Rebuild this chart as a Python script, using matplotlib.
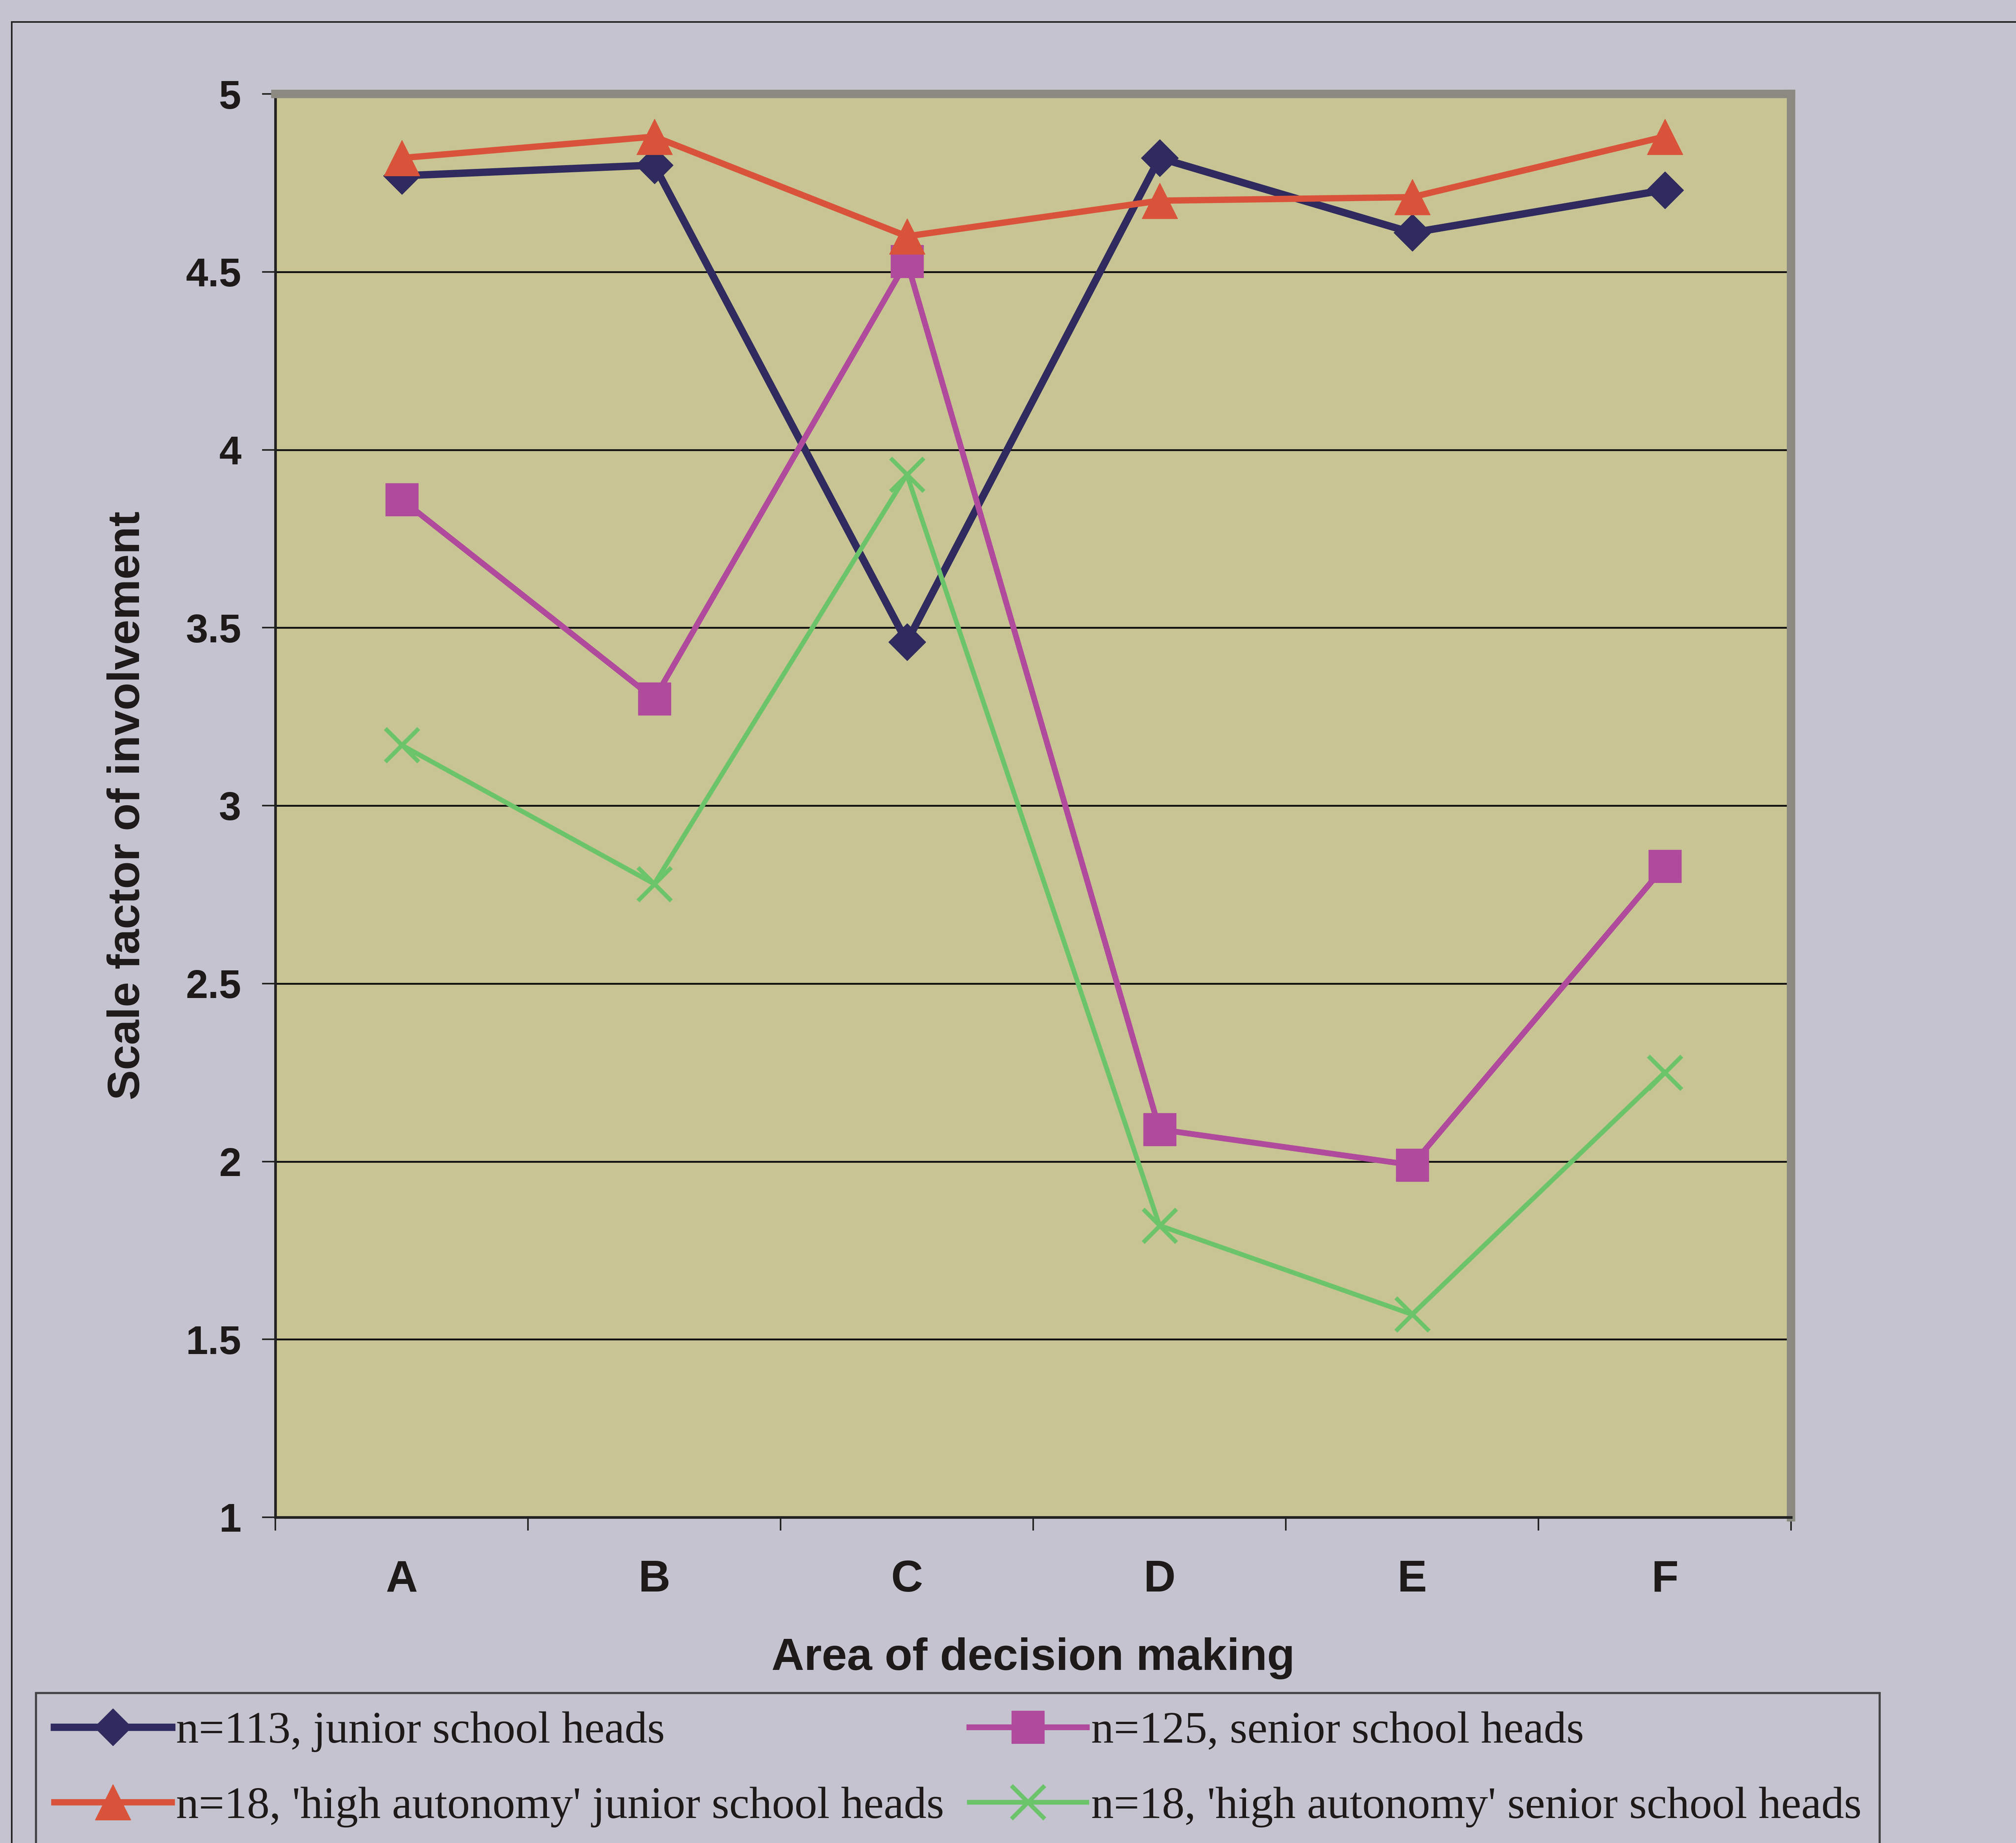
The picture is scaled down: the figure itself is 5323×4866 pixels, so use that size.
import matplotlib
matplotlib.use("Agg")
import matplotlib.pyplot as plt
from matplotlib.patches import Rectangle
from matplotlib.ticker import FixedLocator, NullFormatter, FixedFormatter

# --- data -------------------------------------------------------------
areas = ["A", "B", "C", "D", "E", "F"]
junior_heads = [4.77, 4.80, 3.46, 4.82, 4.61, 4.73]
senior_heads = [3.86, 3.30, 4.53, 2.09, 1.99, 2.83]
hi_auto_junior = [4.82, 4.88, 4.60, 4.70, 4.71, 4.88]
hi_auto_senior = [3.17, 2.78, 3.93, 1.82, 1.57, 2.25]
y_ticks = [1, 1.5, 2, 2.5, 3, 3.5, 4, 4.5, 5]
y_tick_labels = ["1", "1.5", "2", "2.5", "3", "3.5", "4", "4.5", "5"]

# --- style ------------------------------------------------------------
PAGE = "#c4c3cf"
PLOT_BG = "#c8c493"
NAVY = "#2f2b5e"
RED = "#d9533a"
MAGENTA = "#b04a9c"
GREEN = "#6cc46a"
SANS = ["Liberation Sans", "DejaVu Sans"]
SERIF = ["Liberation Serif", "DejaVu Serif"]

W, H, DPI = 5323, 4866, 100
fig = plt.figure(figsize=(W / DPI, H / DPI), dpi=DPI, facecolor=PAGE)

# outer frame of the chart object
fig.patches.append(Rectangle((31 / W, -0.02), 1.05, 1 - 58 / H + 0.02,
                             transform=fig.transFigure, fill=False,
                             edgecolor="#222222", linewidth=3.0))

ax = fig.add_axes([727 / W, 1 - 4006 / H, (4729 - 727) / W, (4006 - 248) / H])
ax.set_facecolor(PLOT_BG)

x = list(range(len(areas)))
l1, = ax.plot(x, junior_heads, color=NAVY, lw=14, marker="D", ms=50,
              mec=NAVY, mfc=NAVY, zorder=3)
l2, = ax.plot(x, senior_heads, color=MAGENTA, lw=11, marker="s", ms=62,
              mec=MAGENTA, mfc=MAGENTA, zorder=4)
l3, = ax.plot(x, hi_auto_junior, color=RED, lw=12, marker="^", ms=68,
              mec=RED, mfc=RED, zorder=5)
l4, = ax.plot(x, hi_auto_senior, color=GREEN, lw=9, marker="x", ms=64,
              mew=8, mec=GREEN, zorder=6)

ax.set_xlim(-0.5, len(areas) - 0.5)
ax.set_ylim(1, 5)

# category boundaries carry the tick marks, labels sit between them
ax.xaxis.set_major_locator(FixedLocator([i - 0.5 for i in range(len(areas) + 1)]))
ax.xaxis.set_major_formatter(NullFormatter())
ax.xaxis.set_minor_locator(FixedLocator(x))
ax.xaxis.set_minor_formatter(FixedFormatter(areas))
ax.tick_params(axis="x", which="major", direction="out", length=25, width=3,
               color="#222222")
ax.tick_params(axis="x", which="minor", length=0, pad=80, labelsize=84)

ax.set_yticks(y_ticks)
ax.set_yticklabels(y_tick_labels)
ax.tick_params(axis="y", direction="out", length=25, width=3, color="#222222",
               pad=40, labelsize=76)

for lab in ax.get_xticklabels(minor=True) + ax.get_yticklabels():
    lab.set_fontfamily(SANS)
    lab.set_fontweight("bold")
    lab.set_color("#1e1a1a")

ax.yaxis.grid(True, color="#111111", linewidth=3.5)
ax.set_axisbelow(True)

for side in ("left", "bottom"):
    ax.spines[side].set_color("#222222")
    ax.spines[side].set_linewidth(5)
for side in ("top", "right"):
    ax.spines[side].set_color("#8a8a80")
    ax.spines[side].set_linewidth(16)

ax.set_xlabel("Area of decision making", fontsize=86, fontweight="bold",
              family=SANS, color="#1e1a1a", labelpad=70)
ax.set_ylabel("Scale factor of involvement", fontsize=86, fontweight="bold",
              family=SANS, color="#1e1a1a", labelpad=70)

leg = fig.legend(
    handles=[l1, l3, l2, l4],
    labels=["n=113, junior school heads",
            "n=18, 'high autonomy' junior school heads",
            "n=125, senior school heads",
            "n=18, 'high autonomy' senior school heads"],
    ncol=2, loc="upper left", bbox_to_anchor=(95 / W, 1 - 4470 / H),
    borderaxespad=0, frameon=True, fancybox=False, shadow=False,
    prop={"family": SERIF, "size": 86}, handlelength=2.6, handletextpad=0.1,
    columnspacing=0.55, labelspacing=0.75, borderpad=0.4, markerscale=1.0,
)
leg.get_frame().set_edgecolor("#222222")
leg.get_frame().set_linewidth(4)
leg.get_frame().set_facecolor(PAGE)
for t in leg.get_texts():
    t.set_color("#1e1a1a")

fig.savefig("out.png", dpi=DPI, facecolor=PAGE)
